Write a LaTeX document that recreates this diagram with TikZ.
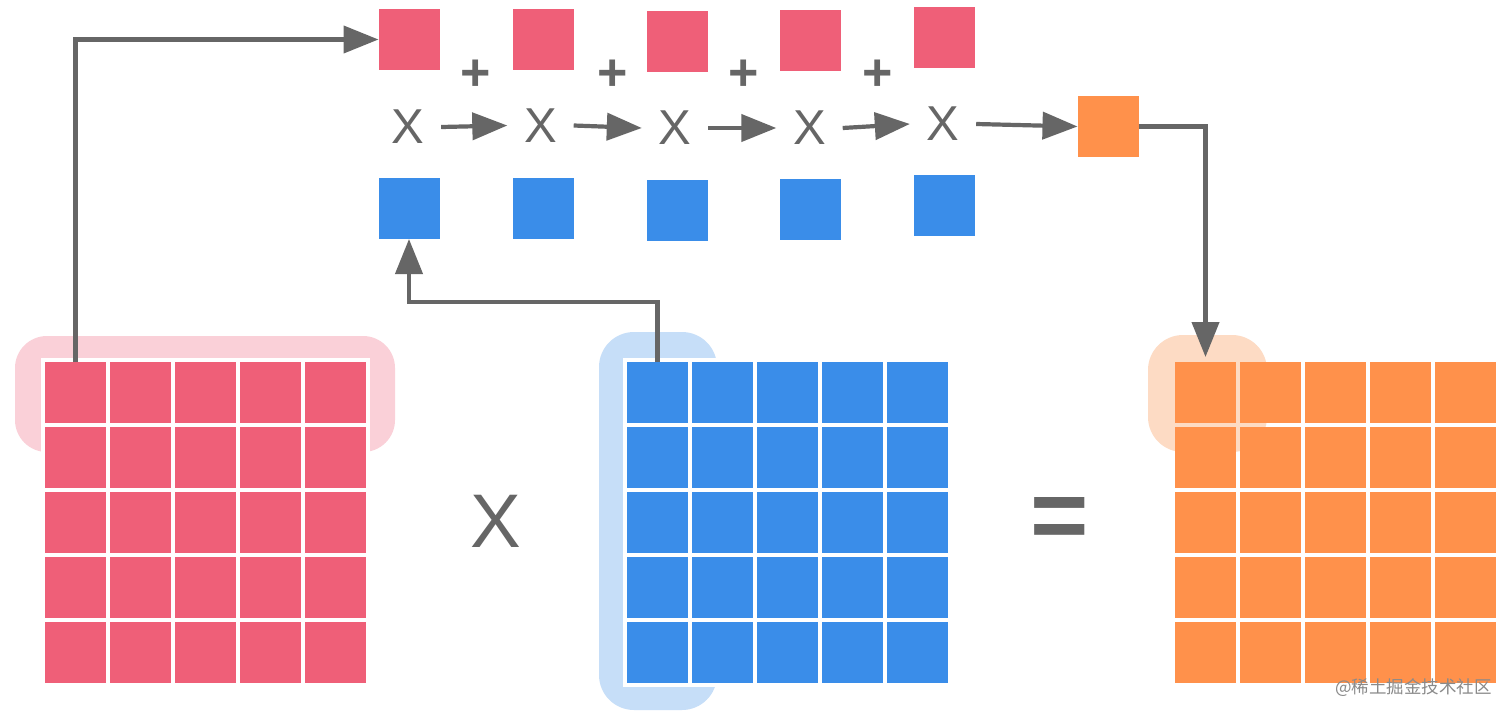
\documentclass[tikz,border=0pt]{standalone}
\usepackage{fontspec}
\setmainfont{Liberation Sans}
\newfontfamily\cjk{Noto Sans CJK SC}
\usetikzlibrary{arrows.meta}
\definecolor{pk}{HTML}{EF5F78}
\definecolor{pkl}{HTML}{FAD0D8}
\definecolor{bl}{HTML}{3A8DE9}
\definecolor{bll}{HTML}{C6DEF8}
\definecolor{orc}{HTML}{FF914B}
\definecolor{orl}{HTML}{FDDBC4}
\definecolor{gr}{HTML}{666666}
\definecolor{wm}{HTML}{8A8A8A}
\begin{document}
\begin{tikzpicture}[x=1pt,y=-1pt,
  cell/.style={minimum size=61pt,inner sep=0pt,outer sep=0pt,draw=none},
  pcell/.style={cell,fill=pk},
  bcell/.style={cell,fill=bl},
  ocell/.style={cell,fill=orc},
  xop/.style={text=gr,font=\fontsize{49}{49}\selectfont,inner sep=0pt,minimum width=66pt},
  plusop/.style={text=gr,font=\bfseries\fontsize{52}{52}\selectfont,inner sep=0pt},
  conn/.style={draw=gr,line width=4.2pt,-{Triangle[length=35pt,width=27pt]}}]
\useasboundingbox (0,0) rectangle (1512,718);
\fill[white] (0,0) rectangle (1512,718);
% highlights
\fill[pkl,rounded corners=32pt] (15,336) rectangle (395,452);
\fill[bll,rounded corners=35pt] (599,332) rectangle (717,710);
\fill[orl,rounded corners=35pt] (1148,335) rectangle (1267,452);
% white backs
\fill[white] (41,358) rectangle (370,687);
\fill[white] (623,358) rectangle (952,687);
% matrices
\foreach \i in {0,...,4}{
  \foreach \j in {0,...,4}{
    \node[pcell] (A-\j-\i) at ({45+30.5+65*\i},{362+30.5+65*\j}) {};
    \node[bcell] (B-\j-\i) at ({627+30.5+65*\i},{362+30.5+65*\j}) {};
    \node[ocell] (C-\j-\i) at ({1175+30.5+65*\i},{362+30.5+65*\j}) {};
  }
}
% top row
\node[pcell] (p1) at (409,39.5) {};
\node[pcell] (p2) at (543,39.5) {};
\node[pcell] (p3) at (677,41.5) {};
\node[pcell] (p4) at (810.5,40.5) {};
\node[pcell] (p5) at (944.5,37) {};
\node[bcell] (b1) at (409,208.5) {};
\node[bcell] (b2) at (543,208) {};
\node[bcell] (b3) at (677,210) {};
\node[bcell] (b4) at (810.5,209) {};
\node[bcell] (b5) at (944.5,205.5) {};
\node[ocell] (o) at (1108,126.5) {};
\node[xop] (x1) at (408,127) {X};
\node[xop] (x2) at (540.5,125.5) {X};
\node[xop] (x3) at (675,128) {X};
\node[xop] (x4) at (809.5,128) {X};
\node[xop] (x5) at (943,124) {X};
\node[plusop] (s1) at (475.5,75) {+};
\node[plusop] (s2) at (612.5,75) {+};
\node[plusop] (s3) at (744,75) {+};
\node[plusop] (s4) at (877.5,75) {+};
% arrows
\draw[conn] (x1.east) -- (x2.west);
\draw[conn] (x2.east) -- (x3.west);
\draw[conn] (x3.east) -- (x4.west);
\draw[conn] (x4.east) -- (x5.west);
\draw[conn] (x5.east) -- (o.west);
\draw[conn] (A-0-0.north) |- (p1.west);
\draw[conn] (B-0-0.north) -- ++(0,-60) -| (b1.south);
\draw[conn,shorten >=5pt] (o.east) -| (C-0-0.north);
% operators
\node[text=gr,font=\fontsize{76}{76}\selectfont,inner sep=0pt] (bigx) at (496,521) {X};
\node[text=gr,font=\bfseries\fontsize{100}{100}\selectfont,inner sep=0pt] (eq) at (1060,523.5) {=};
% watermark
\node[text=wm,font=\cjk\fontsize{17.5}{17.5}\selectfont,inner sep=0pt,anchor=east] (wm) at (1492,688) {@稀土掘金技术社区};
\end{tikzpicture}
\end{document}
